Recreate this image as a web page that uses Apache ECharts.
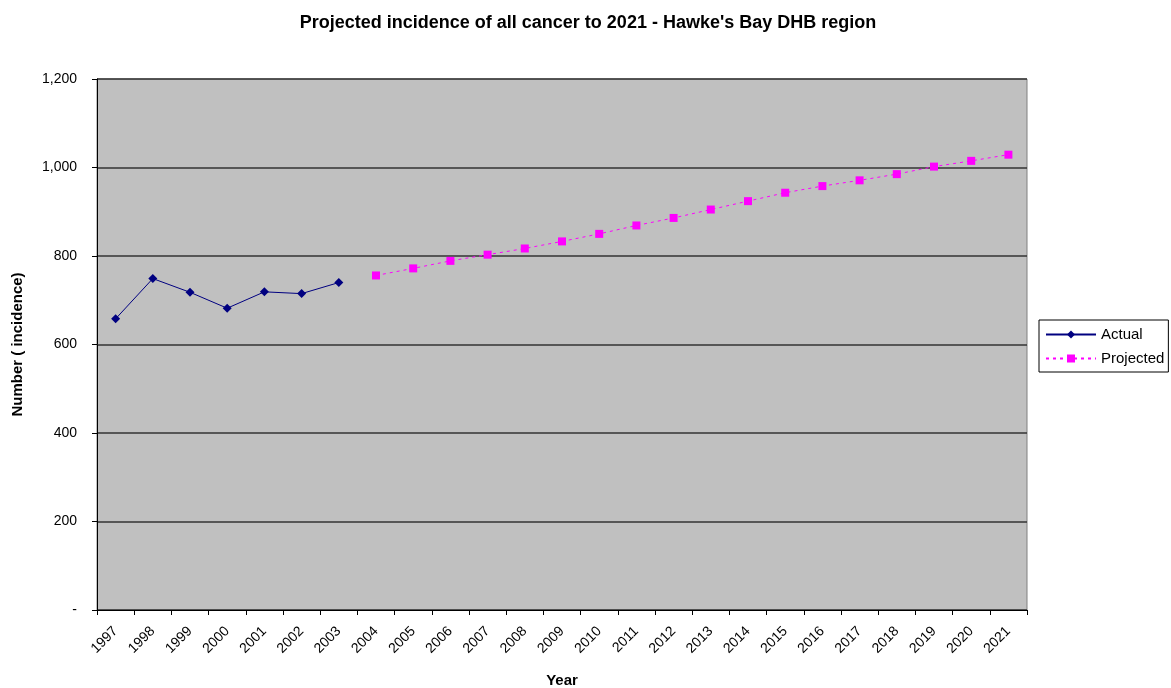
<!DOCTYPE html>
<html><head><meta charset="utf-8">
<script src="https://cdn.jsdelivr.net/npm/echarts@6/dist/echarts.min.js"></script>
<style>html,body{margin:0;padding:0;background:#fff}#c{width:1171px;height:688px}</style>
</head><body><div id="c"></div>
<script>
const years = ['1997','1998','1999','2000','2001','2002','2003','2004','2005','2006','2007','2008','2009','2010','2011','2012','2013','2014','2015','2016','2017','2018','2019','2020','2021'];
const actual = [658, 749, 718, 682, 719, 715, 740, null, null, null, null, null, null, null, null, null, null, null, null, null, null, null, null, null, null];
const projected = [null, null, null, null, null, null, null, 756, 772, 789, 803, 817, 833, 850, 869, 886, 905, 924, 943, 958, 971, 985, 1002, 1015, 1029];
const yTicks = [0, 200, 400, 600, 800, 1000, 1200];

const chart = echarts.init(document.getElementById('c'), null, {renderer: 'canvas'});
const font = 'Liberation Sans, Arial, sans-serif';
chart.setOption({
  animation: false,
  backgroundColor: '#fff',
  textStyle: {fontFamily: font},
  title: {
    text: "Projected incidence of all cancer to 2021 - Hawke's Bay DHB region",
    left: 583, top: 9, textAlign: 'center',
    textStyle: {fontFamily: font, fontSize: 18, fontWeight: 'bold', color: '#000'}
  },
  grid: {left: 97, right: 144, top: 79, bottom: 78, containLabel: false, outerBoundsMode: 'none',
    show: true, backgroundColor: '#C0C0C0', borderColor: '#808080', borderWidth: 1},
  legend: {
    orient: 'vertical', left: 1039, top: 320,
    backgroundColor: '#fff', borderColor: '#000', borderWidth: 1,
    padding: [7, 4, 6, 6], itemGap: 9, itemWidth: 50, itemHeight: 10,
    textStyle: {fontFamily: font, fontSize: 15, color: '#000'},
    data: ['Actual', 'Projected']
  },
  xAxis: {
    type: 'category', data: years, boundaryGap: true,
    name: 'Year', nameLocation: 'middle', nameGap: 63,
    nameTextStyle: {fontFamily: font, fontSize: 15, fontWeight: 'bold', color: '#000'},
    axisLine: {lineStyle: {color: '#000', width: 1}},
    axisTick: {show: true, alignWithLabel: false, length: 5, lineStyle: {color: '#000'}},
    axisLabel: {rotate: 45, interval: 0, fontFamily: font, fontSize: 14, color: '#000', margin: 19},
    splitLine: {show: false}
  },
  yAxis: {
    type: 'value', min: yTicks[0], max: yTicks[yTicks.length - 1], interval: 200,
    name: 'Number ( incidence)', nameLocation: 'middle', nameGap: 72,
    nameTextStyle: {fontFamily: font, fontSize: 15, fontWeight: 'bold', color: '#000'},
    axisLine: {show: true, lineStyle: {color: '#000', width: 1}},
    axisTick: {show: true, length: 5, lineStyle: {color: '#000'}},
    axisLabel: {fontFamily: font, fontSize: 14, color: '#000', margin: 20,
      formatter: v => v === 0 ? '-' : v.toLocaleString('en-US')},
    splitLine: {show: true, lineStyle: {color: '#333', width: 1.5}}
  },
  series: [
    {name: 'Actual', type: 'line', data: actual, connectNulls: false,
     symbol: 'diamond', symbolSize: 9,
     lineStyle: {color: '#000080', width: 1},
     itemStyle: {color: '#000080'}},
    {name: 'Projected', type: 'line', data: projected, connectNulls: false,
     symbol: 'rect', symbolSize: 8,
     lineStyle: {color: '#FF00FF', width: 1, type: [3, 4]},
     itemStyle: {color: '#FF00FF'}}
  ]
});
</script></body></html>
